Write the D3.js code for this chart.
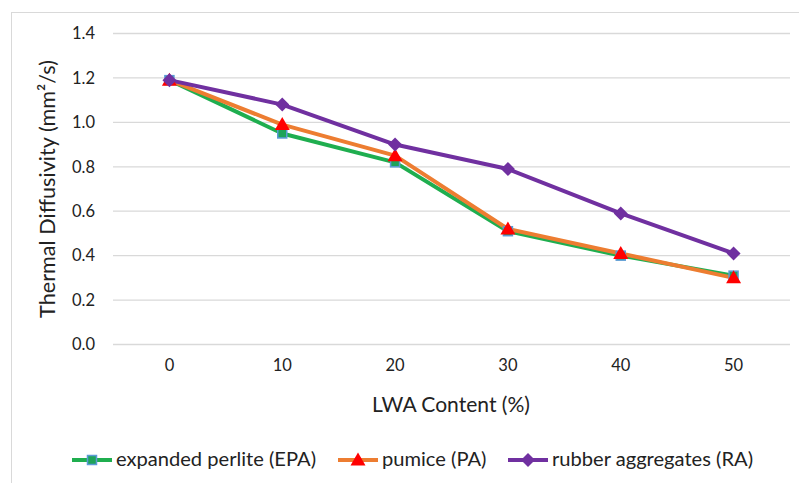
<!DOCTYPE html>
<html><head><meta charset="utf-8">
<script src="https://cdn.jsdelivr.net/npm/d3@7"></script>
<style>body{margin:0;background:#fff;} svg{display:block;} text{font-family:Lato,"Open Sans",sans-serif;fill:#222;}</style>
</head><body>
<svg id="c" width="799" height="483"></svg>
<script>
const categories = ["0","10","20","30","40","50"];
const epa = [1.19, 0.95, 0.82, 0.51, 0.40, 0.31];
const pa  = [1.19, 0.99, 0.85, 0.52, 0.41, 0.30];
const ra  = [1.19, 1.08, 0.90, 0.79, 0.59, 0.41];
const yTicks = [0,0.2,0.4,0.6,0.8,1.0,1.2,1.4];
const seriesNames = ["expanded perlite (EPA)","pumice (PA)","rubber aggregates (RA)"];

const svg = d3.select("#c");
svg.append("rect").attr("x",11.5).attr("y",12.5).attr("width",800).attr("height",480)
  .attr("fill","none").attr("stroke","#d9d9d9");

const x = d3.scaleBand().domain(categories).range([113,790]);
const y = d3.scaleLinear().domain([0,1.4]).range([344.5,33.5]);

function fit(sel, target){
  const w = sel.node().getComputedTextLength();
  const fs = parseFloat(sel.style("font-size"));
  sel.style("font-size", (fs*target/w).toFixed(2)+"px");
}

svg.append("g").selectAll("line").data(yTicks).join("line")
  .attr("x1",113).attr("x2",790).attr("y1",d=>y(d)).attr("y2",d=>y(d))
  .attr("stroke","#d9d9d9").attr("stroke-width",1.3);

const yAxis = svg.append("g").attr("transform","translate(113,0)")
  .call(d3.axisLeft(y).tickValues(yTicks).tickFormat(d3.format(".1f")).tickSize(0).tickPadding(18));
yAxis.select(".domain").remove();
yAxis.selectAll("text").style("font-size","16.5px").attr("fill","#333");

const xAxis = svg.append("g").attr("transform","translate(0,344.5)")
  .call(d3.axisBottom(x).tickSize(0).tickPadding(15));
xAxis.select(".domain").remove();
xAxis.selectAll("text").style("font-size","16.5px").attr("fill","#333");

const xt = svg.append("text").attr("x",451).attr("y",412).attr("text-anchor","middle")
  .style("font-size","18px").text("LWA Content (%)");
fit(xt,158);
const yt = svg.append("text").attr("transform","translate(55,189) rotate(-90)").attr("text-anchor","middle")
  .style("font-size","18px").text("Thermal Diffusivity (mm²/s)");
fit(yt,258);

const cx = c => x(c) + x.bandwidth()/2;
const line = d3.line().x((d,i)=>cx(categories[i])).y(d=>y(d));

const series = [
  {vals:epa, color:"#1fae4f", marker:"square"},
  {vals:pa, color:"#ed7d31", marker:"triangle"},
  {vals:ra, color:"#7030a0", marker:"diamond"}
];

function drawMarker(g, type, px, py){
  if(type==="square"){
    g.append("rect").attr("x",px-4.5).attr("y",py-4.5).attr("width",9).attr("height",9)
      .attr("fill","#1fa35a").attr("stroke","#5b9bd5").attr("stroke-width",1.5);
  } else if(type==="triangle"){
    g.append("path").attr("d",`M${px},${py-7.5}L${px+7.5},${py+5.5}L${px-7.5},${py+5.5}Z`).attr("fill","#ff0000");
  } else {
    g.append("path").attr("d",`M${px},${py-7}L${px+7},${py}L${px},${py+7}L${px-7},${py}Z`).attr("fill","#7030a0");
  }
}

series.forEach(s=>{
  svg.append("path").datum(s.vals).attr("d",line).attr("fill","none")
    .attr("stroke",s.color).attr("stroke-width",4).attr("stroke-linejoin","round");
});
series.forEach(s=>{
  const g = svg.append("g");
  s.vals.forEach((v,i)=>drawMarker(g,s.marker,cx(categories[i]),y(v)));
});

const legX = [72, 338, 508];
let legFs = null;
series.forEach((s,i)=>{
  const g = svg.append("g");
  g.append("line").attr("x1",legX[i]).attr("x2",legX[i]+40).attr("y1",460).attr("y2",460)
    .attr("stroke",s.color).attr("stroke-width",4);
  drawMarker(g,s.marker,legX[i]+20,460);
  const t = g.append("text").attr("x",legX[i]+44).attr("y",466).style("font-size","18px").text(seriesNames[i]);
  if(i===0){ fit(t,200); legFs = t.style("font-size"); } else t.style("font-size",legFs);
});
</script>
</body></html>
